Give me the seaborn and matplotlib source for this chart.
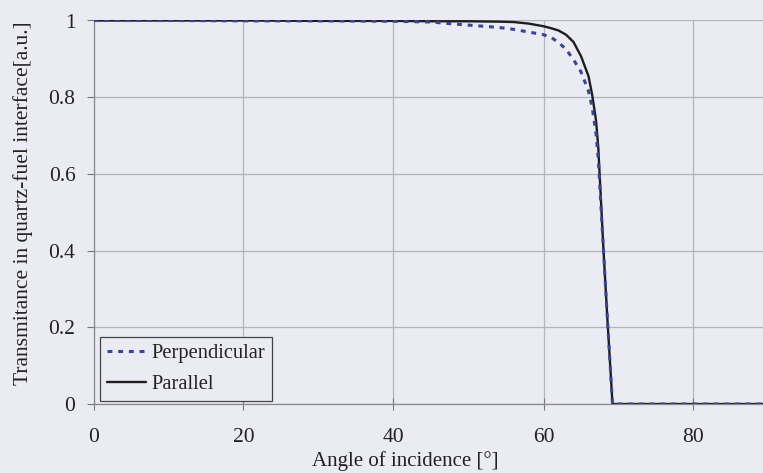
import matplotlib
matplotlib.use("Agg")
import matplotlib.pyplot as plt
import seaborn as sns
import pandas as pd

# ---- data ----
angle = [0, 10, 20, 30, 40, 45, 48, 50, 54, 56, 58, 60, 61, 62, 63, 64, 65,
         66, 66.5, 67, 67.3, 68, 68.5, 69.2, 70, 80, 90]
parallel = [1.0, 1.0, 1.0, 0.999, 0.999, 0.998, 0.998, 0.998, 0.997, 0.996,
            0.992, 0.985, 0.980, 0.974, 0.963, 0.944, 0.907, 0.855, 0.805,
            0.74, 0.67, 0.40, 0.228, 0.0, 0.0, 0.0, 0.0]
perpendicular = [1.0, 1.0, 0.999, 0.999, 0.998, 0.996, 0.991, 0.988, 0.982,
                 0.977, 0.970, 0.963, 0.956, 0.943, 0.925, 0.898, 0.866,
                 0.816, 0.773, 0.705, 0.64, 0.40, 0.228, 0.0, 0.0, 0.0, 0.0]
series_names = ["Perpendicular", "Parallel"]
x_ticks = [0, 20, 40, 60, 80]
y_ticks = [0, 0.2, 0.4, 0.6, 0.8, 1.0]
y_tick_labels = ["0", "0.2", "0.4", "0.6", "0.8", "1"]
x_label = "Angle of incidence [°]"
y_label = "Transmitance in quartz-fuel interface[a.u.]"

df = pd.DataFrame({
    "angle": angle * 2,
    "T": perpendicular + parallel,
    "series": [series_names[0]] * len(angle) + [series_names[1]] * len(angle),
})

sns.set_theme(style="ticks")
plt.rcParams["font.family"] = ["Liberation Serif", "DejaVu Serif"]
plt.rcParams["text.color"] = "#222222"
plt.rcParams["axes.labelcolor"] = "#222222"
plt.rcParams["xtick.color"] = "#222222"
plt.rcParams["ytick.color"] = "#222222"

bg = "#ebebf3"
W, H = 763, 473
fig = plt.figure(figsize=(W / 100, H / 100), dpi=100, facecolor=bg)
left_px, bottom_px, top_px = 93.5, 404, 20.5
px_per_deg = 7.5
xmax = 90
ax_w = xmax * px_per_deg
ax_h = bottom_px - top_px
ax = fig.add_axes([left_px / W, (H - bottom_px) / H, ax_w / W, ax_h / H])
ax.set_facecolor(bg)

palette = {"Perpendicular": "#3a4596", "Parallel": "#1e1e1e"}
sns.lineplot(data=df[df.series == "Perpendicular"], x="angle", y="T",
             color=palette["Perpendicular"], lw=2.2, ax=ax,
             label="Perpendicular", linestyle=(0, (1.6, 1.9)), zorder=3)
sns.lineplot(data=df[df.series == "Parallel"], x="angle", y="T",
             color=palette["Parallel"], lw=1.7, ax=ax,
             label="Parallel", zorder=2)

ax.set_xlim(0, xmax)
ax.set_ylim(0, 1)
ax.set_xticks(x_ticks)
ax.set_yticks(y_ticks)
ax.set_yticklabels(y_tick_labels)
ax.tick_params(axis="both", labelsize=15.5)
ax.tick_params(axis="x", direction="inout", length=8, width=0.8,
               color="#777777", pad=13)
ax.tick_params(axis="y", direction="out", length=5, width=0.8,
               color="#777777", pad=8)
ax.grid(True, color="#b4b4bc", lw=0.9)
ax.set_axisbelow(True)
for s in ["top", "right"]:
    ax.spines[s].set_visible(False)
for s in ["left", "bottom"]:
    ax.spines[s].set_color("#888888")
    ax.spines[s].set_linewidth(0.9)

ax.set_xlabel(x_label, fontsize=15)
ax.set_ylabel(y_label, fontsize=15.5)
ax.xaxis.set_label_coords((405 - left_px) / ax_w, (bottom_px - 451) / ax_h)
ax.yaxis.set_label_coords((33 - left_px) / ax_w, (bottom_px - 203) / ax_h)

leg = ax.legend(loc="lower left",
                bbox_to_anchor=((100 - left_px) / ax_w, (bottom_px - 401) / ax_h),
                borderaxespad=0, fontsize=14.8, frameon=True, fancybox=False,
                handlelength=1.9, handletextpad=0.25, labelspacing=0.55,
                borderpad=0.35)
leg.get_frame().set_edgecolor("#444444")
leg.get_frame().set_linewidth(0.9)
leg.get_frame().set_facecolor(bg)
leg.get_frame().set_alpha(1)

fig.savefig("out.png", dpi=100, facecolor=bg)
